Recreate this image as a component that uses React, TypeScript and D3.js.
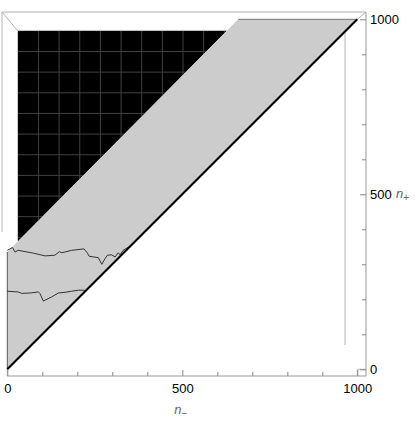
import React, { useRef, useEffect } from 'react';
import * as d3 from 'd3';

// band outline (n-, n+)
const bandX = [0, 0, 15, 660, 1000];
const bandY = [0, 335, 350, 1000, 1000];

// jagged paths inside the band
const upperX = [0, 15, 22, 31, 74, 108, 136, 149, 156, 184, 219, 229, 234, 260, 270, 279, 286, 298, 308, 317, 322, 331, 346, 355];
const upperY = [340, 348, 335, 340, 332, 324, 326, 336, 333, 340, 344, 332, 323, 319, 300, 316, 326, 327, 321, 333, 327, 340, 349, 355];
const lowerX = [0, 31, 41, 65, 89, 93, 103, 127, 146, 165, 184, 203, 217, 225];
const lowerY = [223, 221, 217, 218, 221, 217, 195, 207, 218, 220, 223, 226, 226, 225];

// black mesh region
const blackLeft = 30;
const blackTop = 967;
const meshStep = 59;

const majorTicks = [0, 500, 1000];
const minorTicks = [100, 200, 300, 400, 600, 700, 800, 900];

const W = 415;
const H = 434;

const App = () => {
  const svgRef = useRef<SVGSVGElement>(null);

  useEffect(() => {
    const svg = d3.select(svgRef.current);
    svg.selectAll('*').remove();

    const x = d3.scaleLinear().domain([0, 1000]).range([7.3, 357.3]);
    const y = d3.scaleLinear().domain([0, 1000]).range([369.3, 19.3]);

    const axisY = y(0) + 6.7;
    const axisX = x(1000) + 8.7;
    const frame = '#b4b4b4';

    // box frame
    const fr = svg.append('g').attr('stroke', frame).attr('stroke-width', 1).attr('fill', 'none');
    fr.append('line').attr('x1', 2).attr('y1', 12).attr('x2', axisX).attr('y2', 12);
    fr.append('line').attr('x1', 2).attr('y1', 12).attr('x2', 2).attr('y2', 232);
    fr.append('line').attr('x1', 2).attr('y1', 12).attr('x2', x(blackLeft)).attr('y2', y(blackTop));
    fr.append('line').attr('x1', axisX).attr('y1', 12).attr('x2', x(1000)).attr('y2', y(1000));
    fr.append('line').attr('x1', 345).attr('y1', y(1000)).attr('x2', 345).attr('y2', 345);
    fr.append('line').attr('x1', x(0)).attr('y1', y(0)).attr('x2', x(0)).attr('y2', axisY);
    fr.append('line').attr('x1', x(1000)).attr('y1', y(0)).attr('x2', x(1000)).attr('y2', axisY);
    fr.append('line').attr('x1', x(1000)).attr('y1', y(0)).attr('x2', axisX).attr('y2', y(0));

    // black mesh region, above the band
    const slope = (bandY[3] - bandY[2]) / (bandX[3] - bandX[2]);
    const edgeYAtLeft = bandY[2] + (blackLeft - bandX[2]) * slope;
    const edgeXAtTop = bandX[2] + (blackTop - bandY[2]) / slope;
    const blackPts: [number, number][] = [
      [blackLeft, blackTop], [edgeXAtTop, blackTop], [blackLeft, edgeYAtLeft],
    ];
    const poly = blackPts.map(p => `${x(p[0])},${y(p[1])}`).join(' ');
    svg.append('clipPath').attr('id', 'blackClip').append('polygon').attr('points', poly);
    svg.append('polygon').attr('points', poly).attr('fill', '#000');
    const mesh = svg.append('g').attr('clip-path', 'url(#blackClip)')
      .attr('stroke', '#404040').attr('stroke-width', 1);
    d3.range(blackLeft + meshStep, edgeXAtTop, meshStep).forEach(v => {
      mesh.append('line').attr('x1', x(v)).attr('x2', x(v)).attr('y1', y(blackTop)).attr('y2', y(edgeYAtLeft));
    });
    d3.range(blackTop - meshStep, edgeYAtLeft - meshStep, -meshStep).forEach(v => {
      mesh.append('line').attr('y1', y(v)).attr('y2', y(v)).attr('x1', x(blackLeft)).attr('x2', x(edgeXAtTop));
    });

    // grey band
    const band = bandX.map((v, i) => [x(v), y(bandY[i])] as [number, number]);
    svg.append('polygon')
      .attr('points', band.map(p => p.join(',')).join(' '))
      .attr('fill', '#cccccc');
    const edge = d3.line();
    svg.append('path')
      .attr('d', edge([band[1], band[0]]))
      .attr('stroke', '#555').attr('stroke-width', 1).attr('fill', 'none');
    svg.append('path')
      .attr('d', edge([band[3], band[4]]))
      .attr('stroke', '#777').attr('stroke-width', 1).attr('fill', 'none');

    const line = d3.line<number>().x(d => x(d));
    svg.append('path')
      .attr('d', line.y((d, i) => y(upperY[i]))(upperX))
      .attr('stroke', '#333').attr('stroke-width', 1).attr('fill', 'none');
    svg.append('path')
      .attr('d', line.y((d, i) => y(lowerY[i]))(lowerX))
      .attr('stroke', '#333').attr('stroke-width', 1).attr('fill', 'none');

    // diagonal n+ = n-
    svg.append('path')
      .attr('d', edge([[x(0), y(0)], [x(1000), y(1000)]]))
      .attr('stroke', '#000').attr('stroke-width', 2).attr('fill', 'none');

    // axes
    const font = "'Liberation Sans', Arial, sans-serif";
    svg.append('line').attr('x1', x(0)).attr('x2', axisX).attr('y1', axisY).attr('y2', axisY)
      .attr('stroke', '#999');
    svg.append('line').attr('x1', axisX).attr('x2', axisX).attr('y1', 12).attr('y2', axisY)
      .attr('stroke', '#999');

    const gxMinor = svg.append('g').attr('transform', `translate(0,${axisY})`);
    gxMinor.call(d3.axisBottom(x).tickValues(minorTicks).tickSize(-4).tickFormat(() => ''));
    const gx = svg.append('g').attr('transform', `translate(0,${axisY})`);
    gx.call(d3.axisBottom(x).tickValues(majorTicks).tickSize(-6).tickPadding(8).tickFormat(d3.format('d')));
    const gyMinor = svg.append('g').attr('transform', `translate(${axisX},0)`);
    gyMinor.call(d3.axisRight(y).tickValues(minorTicks).tickSize(-4).tickFormat(() => ''));
    const gy = svg.append('g').attr('transform', `translate(${axisX},0)`);
    gy.call(d3.axisRight(y).tickValues(majorTicks).tickSize(-6).tickPadding(4).tickFormat(d3.format('d')));
    svg.selectAll('.domain').remove();
    svg.selectAll('.tick line').attr('stroke', '#888');
    svg.selectAll('.tick text').attr('fill', '#000').style('font-family', font).style('font-size', '13px');

    // axis titles
    const tx = svg.append('text').attr('x', x(500) - 8).attr('y', 414)
      .style('font-family', font).style('font-size', '13px').attr('fill', '#666');
    tx.append('tspan').attr('font-style', 'italic').text('n');
    tx.append('tspan').attr('dy', 3).attr('font-size', '10px').text('\u2212');
    const ty = svg.append('text').attr('x', axisX + 30).attr('y', y(500) + 4)
      .style('font-family', font).style('font-size', '13px').attr('fill', '#666');
    ty.append('tspan').attr('font-style', 'italic').text('n');
    ty.append('tspan').attr('dy', 3).attr('font-size', '10px').text('+');
  }, []);

  return (
    <svg ref={svgRef} width={W} height={H}
      style={{ position: 'absolute', left: 0, top: 0, background: '#fff' }}></svg>
  );
};

export default App;
